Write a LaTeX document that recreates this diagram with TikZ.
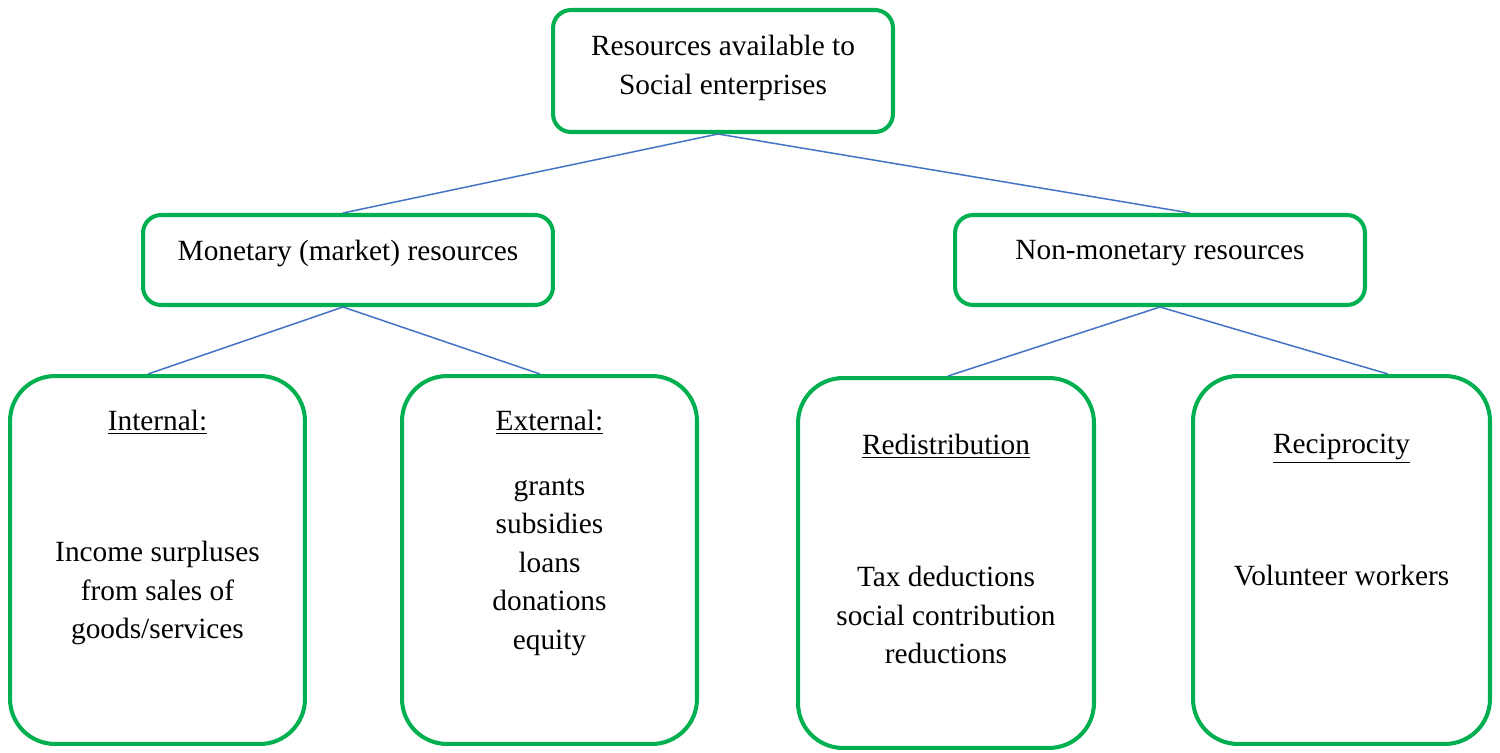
\documentclass[tikz,border=0pt]{standalone}
\usepackage{fontspec}
\setmainfont{Liberation Serif}
\definecolor{boxgreen}{HTML}{00B050}
\definecolor{lineblue}{HTML}{4472C4}
\begin{document}
\begin{tikzpicture}[x=0.02cm,y=-0.02cm,
  box/.style={draw=boxgreen,line width=2.3pt,fill=white,inner sep=0pt,rectangle},
  small/.style={box,rounded corners=0.36cm},
  big/.style={box,rounded corners=0.9cm},
  link/.style={draw=lineblue,line width=0.85pt},
  txt/.style={font=\fontsize{16.7}{21.9}\selectfont,align=center,inner sep=0pt}]
\useasboundingbox (0,0) rectangle (1500,753);
% boxes
\node[small,minimum width=6.8cm,minimum height=2.44cm] (top) at (723,71) {};
\node[small,minimum width=8.2cm,minimum height=1.8cm] (mon) at (348,260) {};
\node[small,minimum width=8.2cm,minimum height=1.8cm] (non) at (1160,260) {};
\node[big,minimum width=5.9cm,minimum height=7.36cm] (int) at (157.5,560) {};
\node[big,minimum width=5.9cm,minimum height=7.36cm] (ext) at (549.5,560) {};
\node[big,minimum width=5.92cm,minimum height=7.4cm] (red) at (946,563) {};
\node[big,minimum width=5.94cm,minimum height=7.36cm] (rec) at (1341.5,560) {};
% connectors
\draw[link] ([xshift=-0.1cm]top.south) -- ([xshift=-0.1cm]mon.north);
\draw[link] ([xshift=-0.1cm]top.south) -- ([xshift=0.6cm]non.north);
\draw[link] ([xshift=-0.1cm]mon.south) -- ([xshift=-0.19cm]int.north);
\draw[link] ([xshift=-0.1cm]mon.south) -- ([xshift=-0.19cm]ext.north);
\draw[link] (non.south) -- ([xshift=0.04cm]red.north);
\draw[link] (non.south) -- ([xshift=0.93cm]rec.north);
% texts
\node[txt] (ttop) at (723,68) {Resources available to\\Social enterprises};
\node[txt] (tmon) at (348,253) {Monetary (market) resources};
\node[txt] (tnon) at (1160,253) {Non-monetary resources};
\node[txt] (hint) at (157.5,422) {\underline{Internal:}};
\node[txt] (bint) at (157.5,593) {Income surpluses\\from sales of\\goods/services};
\node[txt] (hext) at (549.5,422) {\underline{External:}};
\node[txt] (bext) at (549.5,567) {grants\\subsidies\\loans\\donations\\equity};
\node[txt] (hred) at (946,446) {\underline{Redistribution}};
\node[txt] (bred) at (946,615) {Tax deductions\\social contribution\\reductions};
\node[txt] (hrec) at (1341.5,449) {\underline{Reciprocity}};
\node[txt] (brec) at (1341.5,576) {Volunteer workers};
\end{tikzpicture}
\end{document}
